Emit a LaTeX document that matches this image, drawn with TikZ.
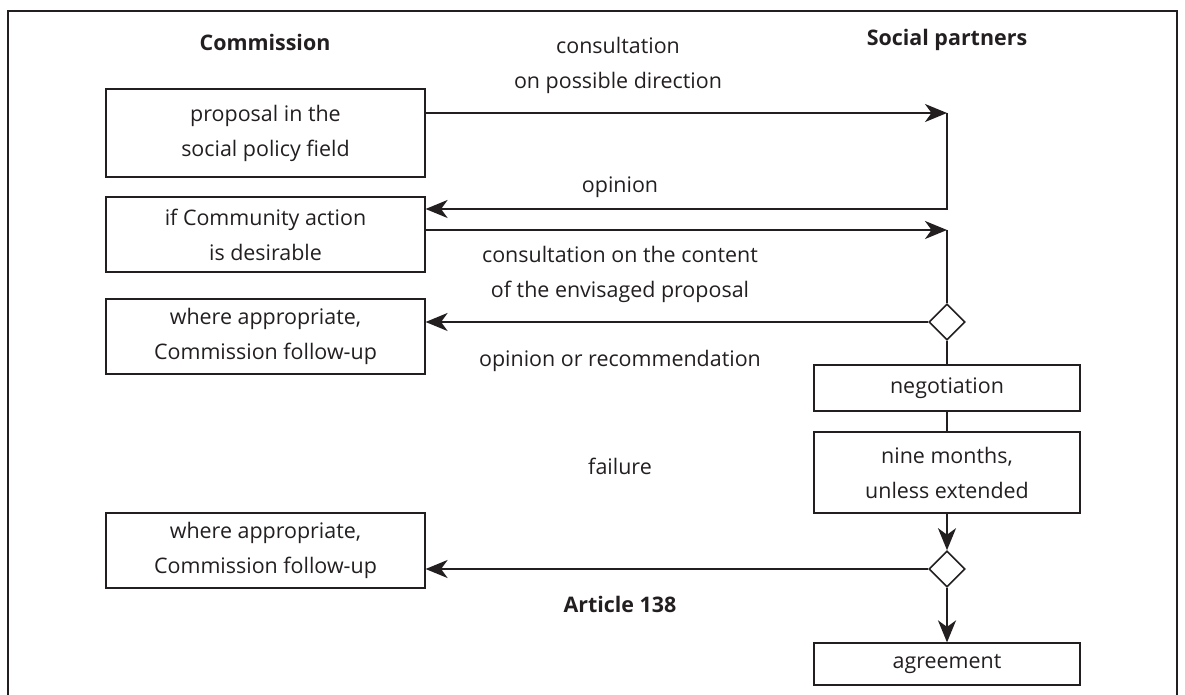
\documentclass[tikz,border=0pt]{standalone}
\usepackage{fontspec}
\setmainfont{Open Sans}
\usetikzlibrary{shapes.geometric,arrows.meta}
\definecolor{ink}{HTML}{231F20}
\begin{document}
\begin{tikzpicture}[x = 0.02cm, y = -0.02cm, draw = ink, text = ink,
  font = \fontsize{12.2}{19.9}\selectfont,
  box/.style = {draw, line width = 0.7pt, align = center, inner sep = 0pt},
  leftbox/.style = {box, minimum width = 6.38cm},
  rightbox/.style = {box, minimum width = 5.32cm},
  choice/.style = {draw, diamond, line width = 0.9pt, minimum size = 0.72cm, inner sep = 0pt, fill = white},
  flow/.style = {line width = 1.2pt, -{Stealth[length = 4.4mm, width = 3.6mm, inset = 1.3mm]}},
  link/.style = {line width = 1.2pt},
  note/.style = {align = center}]
\useasboundingbox (0,0) rectangle (1185,695);
\draw[line width = 0.6pt] (8,695) -- (8,11) -- (1177,11) -- (1177,695);
% column heads
\node (comm) at (265,42) {\bfseries Commission};
\node (soc) at (947,40) {\bfseries Social partners};
% Commission side
\node[leftbox, minimum height = 1.76cm] (prop) at (265.5,133) {proposal in the\\social policy field};
\node[leftbox, minimum height = 1.5cm] (desire) at (265.5,234.5) {if Community action\\is desirable};
\node[leftbox, minimum height = 1.5cm] (follow1) at (265.5,336.5) {where appropriate,\\Commission follow-up};
\node[leftbox, minimum height = 1.5cm] (follow2) at (265.5,550.5) {where appropriate,\\Commission follow-up};
% social partners side
\node[choice] (dia1) at (947,322) {};
\node[rightbox, minimum height = 0.92cm] (nego) at (947,388) {negotiation};
\node[rightbox, minimum height = 1.62cm] (nine) at (947,472.5) {nine months,\\unless extended};
\node[choice] (dia2) at (947,569) {};
\node[rightbox, minimum height = 0.84cm] (agree) at (947,664) {agreement};
% labels on the arrows
\node[note] (l1) at (618,65) {consultation\\on possible direction};
\node[note] (l2) at (620,187) {opinion};
\node[note] (l3) at (620,274.5) {consultation on the content\\of the envisaged proposal};
\node[note] (l4) at (620,361) {opinion or recommendation};
\node[note] (l5) at (620,466) {failure};
\node[note] (l6) at (620,604) {\bfseries Article 138};
% connectors
\coordinate (c1) at (947,113);
\coordinate (c2) at (947,209);
\coordinate (c3) at (947,230);
\draw[flow] (prop.east |- c1) -- (c1);
\draw[flow] (c1) -- (c2) -- (desire.east |- c2);
\draw[flow] (desire.east |- c3) -- (c3);
\draw[link] (c3) -- (dia1.north);
\draw[flow] (dia1.west) -- (follow1.east |- dia1.west);
\draw[link] (dia1.south) -- (nego.north);
\draw[link] (nego.south) -- (nine.north);
\draw[flow] (nine.south) -- (dia2.north);
\draw[flow] (dia2.west) -- (follow2.east |- dia2.west);
\draw[flow] (dia2.south) -- (agree.north);
\end{tikzpicture}
\end{document}
